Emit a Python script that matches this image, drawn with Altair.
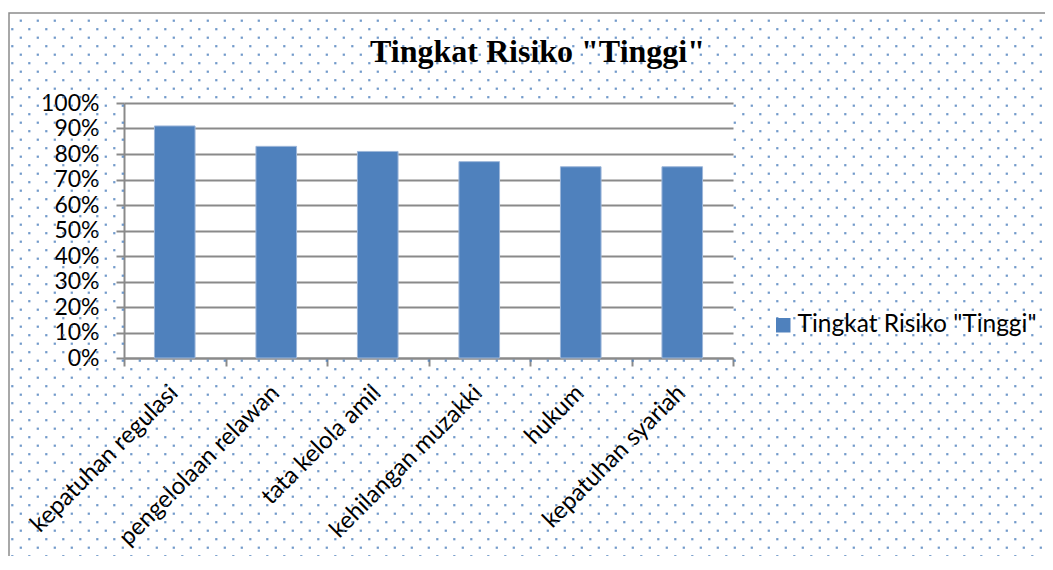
import altair as alt
import pandas as pd

# ---- data ----
categories = [
    "kepatuhan regulasi",
    "pengelolaan relawan",
    "tata kelola amil",
    "kehilangan muzakki",
    "hukum",
    "kepatuhan syariah",
]
values = [0.91, 0.83, 0.81, 0.77, 0.75, 0.75]
series_name = 'Tingkat Risiko "Tinggi"'
y_ticks = [0.0, 0.1, 0.2, 0.3, 0.4, 0.5, 0.6, 0.7, 0.8, 0.9, 1.0]

# ---- layout / style ----
W, H = 609, 255
PAD = {"left": 116, "top": 95, "right": 312, "bottom": 198}
BLUE = "#4f81bd"
GRID = "#8a8a8a"
LABEL_FONT = "Lato"
DOT_STEP = 8.5
DOT_X0 = 12.3 - 8 - PAD["left"]   # first dot column relative to plot origin
DOT_Y0 = 20.7 - 8 - PAD["top"]    # first dot row relative to plot origin

df = pd.DataFrame({"category": categories, "value": values,
                   "series": [series_name] * len(categories)})

# decorative frame of the chart area
frame = alt.Chart(alt.Data(values=[{"k": 0}])).mark_rect(
    fillOpacity=0, stroke="#8c8c8c", strokeWidth=1.5
).encode(
    x=alt.value(-115), x2=alt.value(W + 600),
    y=alt.value(-90), y2=alt.value(H + 500),
)

# decorative dotted background pattern (outside the plot area)
dots = alt.Chart(alt.sequence(0, 124, as_="a")).transform_calculate(
    b="sequence(0, 66)"
).transform_flatten(["b"]).transform_filter(
    "(datum.a + datum.b) % 2 == 1"
).transform_calculate(
    px=f"{DOT_X0} + {DOT_STEP} * datum.a",
    py=f"{DOT_Y0} + {DOT_STEP} * datum.b",
).transform_filter(
    f"!(datum.px > 0 && datum.px < {W} && datum.py > 0 && datum.py < {H})"
).mark_square(size=5, color=BLUE, opacity=0.8).encode(
    x=alt.X("px:Q", scale=alt.Scale(domain=[0, W], nice=False, zero=False), axis=None),
    y=alt.Y("py:Q", scale=alt.Scale(domain=[0, H], nice=False, zero=False, reverse=True), axis=None),
)

bars = alt.Chart(df).mark_bar(color=BLUE, width={"band": 0.4}, stroke="#9db6d9", strokeWidth=1).encode(
    x=alt.X(
        "category:N", sort=categories,
        scale=alt.Scale(paddingInner=0, paddingOuter=0),
        axis=alt.Axis(
            title=None, labelAngle=-45, labelAlign="right", labelBaseline="middle",
            labelFont=LABEL_FONT, labelFontSize=24, labelColor="black",
            labelPadding=23, labelOffset=-1, labelLimit=400,
            tickBand="extent", tickSize=8, tickColor=GRID, tickWidth=2,
            domainColor=GRID, domainWidth=2, grid=False,
        ),
    ),
    y=alt.Y(
        "value:Q", scale=alt.Scale(domain=[0, 1], nice=False),
        axis=alt.Axis(
            title=None, values=y_ticks, format=".0%",
            labelFont=LABEL_FONT, labelFontSize=23, labelColor="black",
            labelPadding=17, tickSize=8, tickColor=GRID, tickWidth=2,
            domainColor=GRID, domainWidth=2,
            grid=True, gridColor=GRID, gridWidth=2,
        ),
    ),
    color=alt.Color(
        "series:N", scale=alt.Scale(range=[BLUE]),
        legend=alt.Legend(
            title=None, orient="none", legendX=647, legendY=210,
            symbolType="square", symbolSize=210, symbolStrokeWidth=0,
            labelFont=LABEL_FONT, labelFontSize=24.5, labelColor="black",
            labelOffset=2, labelLimit=400,
        ),
    ),
)

chart = alt.layer(frame, dots, bars).resolve_scale(
    x="independent", y="independent"
).properties(
    width=W, height=H,
    autosize=alt.AutoSizeParams(type="none"),
    padding=PAD,
    background="white",
    title=alt.Title(
        series_name, font="Liberation Serif", fontSize=32, fontWeight="bold",
        color="black", anchor="middle", frame="group", dx=109,
        offset=-82, baseline="alphabetic",
    ),
).configure_view(strokeWidth=0)

chart.save("out.html", embed_options={"renderer": "svg", "actions": False})
